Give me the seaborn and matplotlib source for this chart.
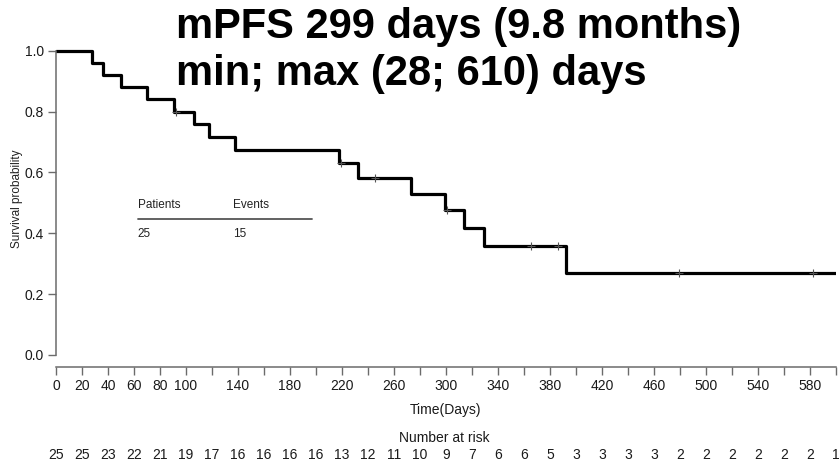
import matplotlib
matplotlib.use("Agg")
import matplotlib.pyplot as plt
import seaborn as sns
import pandas as pd
from matplotlib.transforms import blended_transform_factory

# ---- data ----
step_times = [0, 28, 36, 50, 70, 91, 106, 118, 138, 218, 232, 273, 299, 314, 329, 392, 600]
step_surv = [1.0, 0.96, 0.92, 0.88, 0.84, 0.80, 0.758, 0.716, 0.674, 0.632,
             0.583, 0.530, 0.477, 0.417, 0.357, 0.268, 0.268]
censor_times = [92, 219, 245, 301, 365, 386, 479, 582]
censor_surv = [0.80, 0.632, 0.583, 0.477, 0.357, 0.357, 0.268, 0.268]
risk_times = list(range(0, 601, 20))
n_at_risk = [25, 25, 23, 22, 21, 19, 17, 16, 16, 16, 16, 13, 12, 11, 10, 9, 7,
             6, 6, 5, 3, 3, 3, 3, 2, 2, 2, 2, 2, 2, 1]
labeled_ticks = [0, 20, 40, 60, 80, 100, 140, 180, 220, 260, 300, 340, 380,
                 420, 460, 500, 540, 580]
y_ticks = [0.0, 0.2, 0.4, 0.6, 0.8, 1.0]
title_lines = ["mPFS 299 days (9.8 months)", "min; max (28; 610) days"]
table_header = ["Patients", "Events"]
table_values = ["25", "15"]

sns.set_theme(style="white")
plt.rcParams["font.family"] = ["Liberation Sans", "DejaVu Sans"]
NARROW = ["Liberation Sans Narrow", "Liberation Sans", "DejaVu Sans"]

W, H = 840, 465
fig = plt.figure(figsize=(W / 100, H / 100), dpi=100)
ax = fig.add_axes([56 / W, (H - 367) / H, 780 / W, 328.3 / H])

curve = pd.DataFrame({"time": step_times, "surv": step_surv})
sns.lineplot(data=curve, x="time", y="surv", drawstyle="steps-post",
             estimator=None, color="black", linewidth=2.3, ax=ax)
cens = pd.DataFrame({"time": censor_times, "surv": censor_surv})
sns.scatterplot(data=cens, x="time", y="surv", marker="+", s=40,
                color="#555555", linewidth=0.8, ax=ax, zorder=3)

ax.set_xlim(0, 600)
ax.set_ylim(-0.04, 1.04)
for s in ["top", "right"]:
    ax.spines[s].set_visible(False)
ax.spines["left"].set_bounds(0, 1)
ax.spines["bottom"].set_bounds(0, 600)
for s in ["left", "bottom"]:
    ax.spines[s].set_color("#6b6b6b")
    ax.spines[s].set_linewidth(1.1)

ax.set_xticks(risk_times)
ax.set_xticklabels([str(t) if t in labeled_ticks else "" for t in risk_times])
ax.set_yticks(y_ticks)
ax.set_yticklabels([f"{v:.1f}" for v in y_ticks])
ax.tick_params(axis="both", direction="out", length=5.5, width=1.0,
               color="#6b6b6b", labelcolor="#1a1a1a", labelsize=10,
               bottom=True, left=True)
ax.tick_params(axis="x", pad=3)
ax.tick_params(axis="y", pad=3)
for lab in ax.get_xticklabels() + ax.get_yticklabels():
    lab.set_family(NARROW)
ax.set_xlabel("")
ax.set_ylabel("")
ax.grid(False)

# y label
fig.text(17 / W, 1 - 199 / H, "Survival probability", rotation=90,
         ha="center", va="center", fontsize=8.5, color="#222222")

# x label and risk table
fig.text(446 / W, 1 - 410 / H, "Time(Days)", ha="center", va="center",
         fontsize=10, color="#1a1a1a", family=NARROW)
fig.text(444 / W, 1 - 438 / H, "Number at risk", ha="center", va="center",
         fontsize=10, color="#1a1a1a", family=NARROW)
tr = blended_transform_factory(ax.transData, fig.transFigure)
for t, n in zip(risk_times, n_at_risk):
    ax.text(t, 1 - 455 / H, str(n), transform=tr, ha="center", va="center",
            fontsize=10, color="#1a1a1a", family=NARROW, clip_on=False)

# small patients/events table
ax.text(63, 0.494, table_header[0], ha="left", va="center", fontsize=8.5, color="#222222")
ax.text(136, 0.494, table_header[1], ha="left", va="center", fontsize=8.5, color="#222222")
ax.plot([63, 197], [0.448, 0.448], color="#555555", linewidth=1.3)
ax.text(63, 0.396, table_values[0], ha="left", va="center", fontsize=8.5, color="#222222")
ax.text(136, 0.396, table_values[1], ha="left", va="center", fontsize=8.5, color="#222222")

# title
fig.text(176 / W, 1 - 38 / H, title_lines[0], ha="left", va="baseline",
         fontsize=30, fontweight="bold", color="black")
fig.text(176 / W, 1 - 85 / H, title_lines[1], ha="left", va="baseline",
         fontsize=30, fontweight="bold", color="black")

fig.savefig("out.png", dpi=100)
